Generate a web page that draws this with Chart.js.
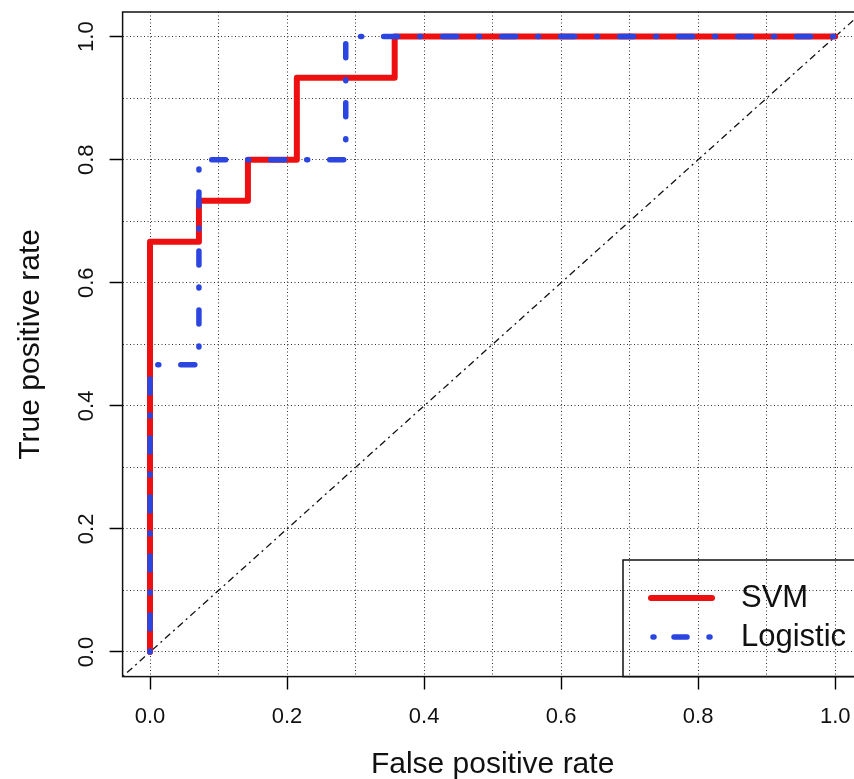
<!DOCTYPE html>
<html>
<head>
<meta charset="utf-8">
<script src="https://cdn.jsdelivr.net/npm/chart.js@4.4.1/dist/chart.umd.min.js"></script>
<style>
  html, body { margin: 0; padding: 0; background: #fff; overflow: hidden; }
  #wrap { width: 880px; height: 779px; }
</style>
</head>
<body>
<div id="wrap"><canvas id="roc" width="880" height="779"></canvas></div>
<script>
// ROC points (14 negatives, 15 positives)
var svmFpr = [0, 0, 0.0714, 0.0714, 0.1429, 0.1429, 0.2143, 0.2143, 0.3571, 0.3571, 1];
var svmTpr = [0, 0.6667, 0.6667, 0.7333, 0.7333, 0.8, 0.8, 0.9333, 0.9333, 1, 1];
var logFpr = [0, 0, 0.0714, 0.0714, 0.2857, 0.2857, 1];
var logTpr = [0, 0.4667, 0.4667, 0.8, 0.8, 1, 1];
var chance = [-0.04, 1.04];

var gridValues = [0, 0.1, 0.2, 0.3, 0.4, 0.5, 0.6, 0.7, 0.8, 0.9, 1];
var tickLabels = ['0.0', '0.2', '0.4', '0.6', '0.8', '1.0'];
var seriesNames = ['SVM', 'Logistic'];

var RED = '#ee1010';
var BLUE = '#2b45e0';
var FONT = "'Liberation Sans', Arial, Helvetica, sans-serif";

function pts(xs, ys) {
  return xs.map(function (x, i) { return { x: x, y: ys[i] }; });
}

function labelFor(value, index) {
  return index % 2 === 0 ? tickLabels[index / 2] : '';
}

function setTicks(scale) {
  scale.ticks = gridValues.map(function (v) { return { value: v }; });
}

function tickMarkColor(c) {
  return c.index % 2 === 0 ? '#000' : 'rgba(0,0,0,0)';
}

// plot box and the legend in the lower right, like R's legend("bottomright")
var boxPlugin = {
  id: 'boxAndLegend',
  afterDraw: function (chart) {
    var ctx = chart.ctx, a = chart.chartArea;
    ctx.save();
    ctx.setLineDash([]);
    ctx.strokeStyle = '#111';
    ctx.lineWidth = 1.5;
    ctx.strokeRect(a.left, a.top, a.right - a.left, a.bottom - a.top);

    var bx = 623, by = 560;
    ctx.strokeRect(bx, by, a.right - bx, a.bottom - by);

    ctx.lineCap = 'round';
    ctx.strokeStyle = RED;
    ctx.lineWidth = 6;
    ctx.beginPath(); ctx.moveTo(bx + 28, by + 38); ctx.lineTo(bx + 89, by + 38); ctx.stroke();

    ctx.strokeStyle = BLUE;
    ctx.lineWidth = 5.5;
    ctx.setLineDash([1, 20, 13, 22]);
    ctx.beginPath(); ctx.moveTo(bx + 30, by + 77); ctx.lineTo(bx + 90, by + 77); ctx.stroke();
    ctx.setLineDash([]);

    ctx.fillStyle = '#111';
    ctx.font = '31px ' + FONT;
    ctx.textBaseline = 'middle';
    ctx.textAlign = 'left';
    ctx.fillText(seriesNames[0], bx + 118, by + 38);
    ctx.fillText(seriesNames[1], bx + 118, by + 77);
    ctx.restore();
  }
};

var axisCommon = {
  type: 'linear',
  min: -0.04,
  max: 1.04,
  afterBuildTicks: setTicks,
  border: { display: false, dash: [1, 2.5] },
  grid: {
    color: 'rgba(0,0,0,0.8)',
    lineWidth: 1,
    tickLength: 13,
    tickColor: tickMarkColor,
    tickWidth: 1.4,
    tickBorderDash: [1, 0]
  }
};

new Chart(document.getElementById('roc'), {
  type: 'line',
  data: {
    datasets: [
      {
        label: seriesNames[1],
        data: pts(logFpr, logTpr),
        borderColor: BLUE,
        borderWidth: 5.5,
        borderDash: [1, 22, 14, 22],
        borderCapStyle: 'round',
        borderJoinStyle: 'round',
        pointRadius: 0,
        fill: false,
        order: 0
      },
      {
        label: seriesNames[0],
        data: pts(svmFpr, svmTpr),
        borderColor: RED,
        borderWidth: 6,
        borderCapStyle: 'round',
        borderJoinStyle: 'round',
        pointRadius: 0,
        fill: false,
        order: 1
      },
      {
        label: 'chance',
        data: pts(chance, chance),
        borderColor: '#111',
        borderWidth: 1.3,
        borderDash: [2, 4, 7, 4],
        pointRadius: 0,
        fill: false,
        order: 2
      }
    ]
  },
  options: {
    responsive: false,
    animation: false,
    layout: { padding: { top: 12, right: 17.4, left: 0, bottom: 0 } },
    plugins: { legend: { display: false }, tooltip: { enabled: false } },
    scales: {
      x: Object.assign({}, axisCommon, {
        position: 'bottom',
        afterFit: function (s) { s.height = 102.4; s.paddingLeft = 0; s.paddingRight = 0; },
        ticks: {
          callback: labelFor,
          autoSkip: false,
          maxRotation: 0,
          padding: 14,
          color: '#111',
          font: { family: FONT, size: 22 }
        },
        title: {
          display: true,
          text: 'False positive rate',
          color: '#111',
          font: { family: FONT, size: 30, lineHeight: 0.95 },
          padding: { top: 0, bottom: 0 }
        }
      }),
      y: Object.assign({}, axisCommon, {
        position: 'left',
        afterFit: function (s) { s.width = 122.6; s.paddingTop = 0; s.paddingBottom = 0; },
        ticks: {
          callback: labelFor,
          autoSkip: false,
          minRotation: 90,
          maxRotation: 90,
          crossAlign: 'center',
          padding: 7,
          color: '#111',
          font: { family: FONT, size: 22 }
        },
        title: {
          display: true,
          text: 'True positive rate',
          color: '#111',
          font: { family: FONT, size: 30 },
          padding: { top: 13, bottom: 0 }
        }
      })
    }
  },
  plugins: [boxPlugin]
});
</script>
</body>
</html>
